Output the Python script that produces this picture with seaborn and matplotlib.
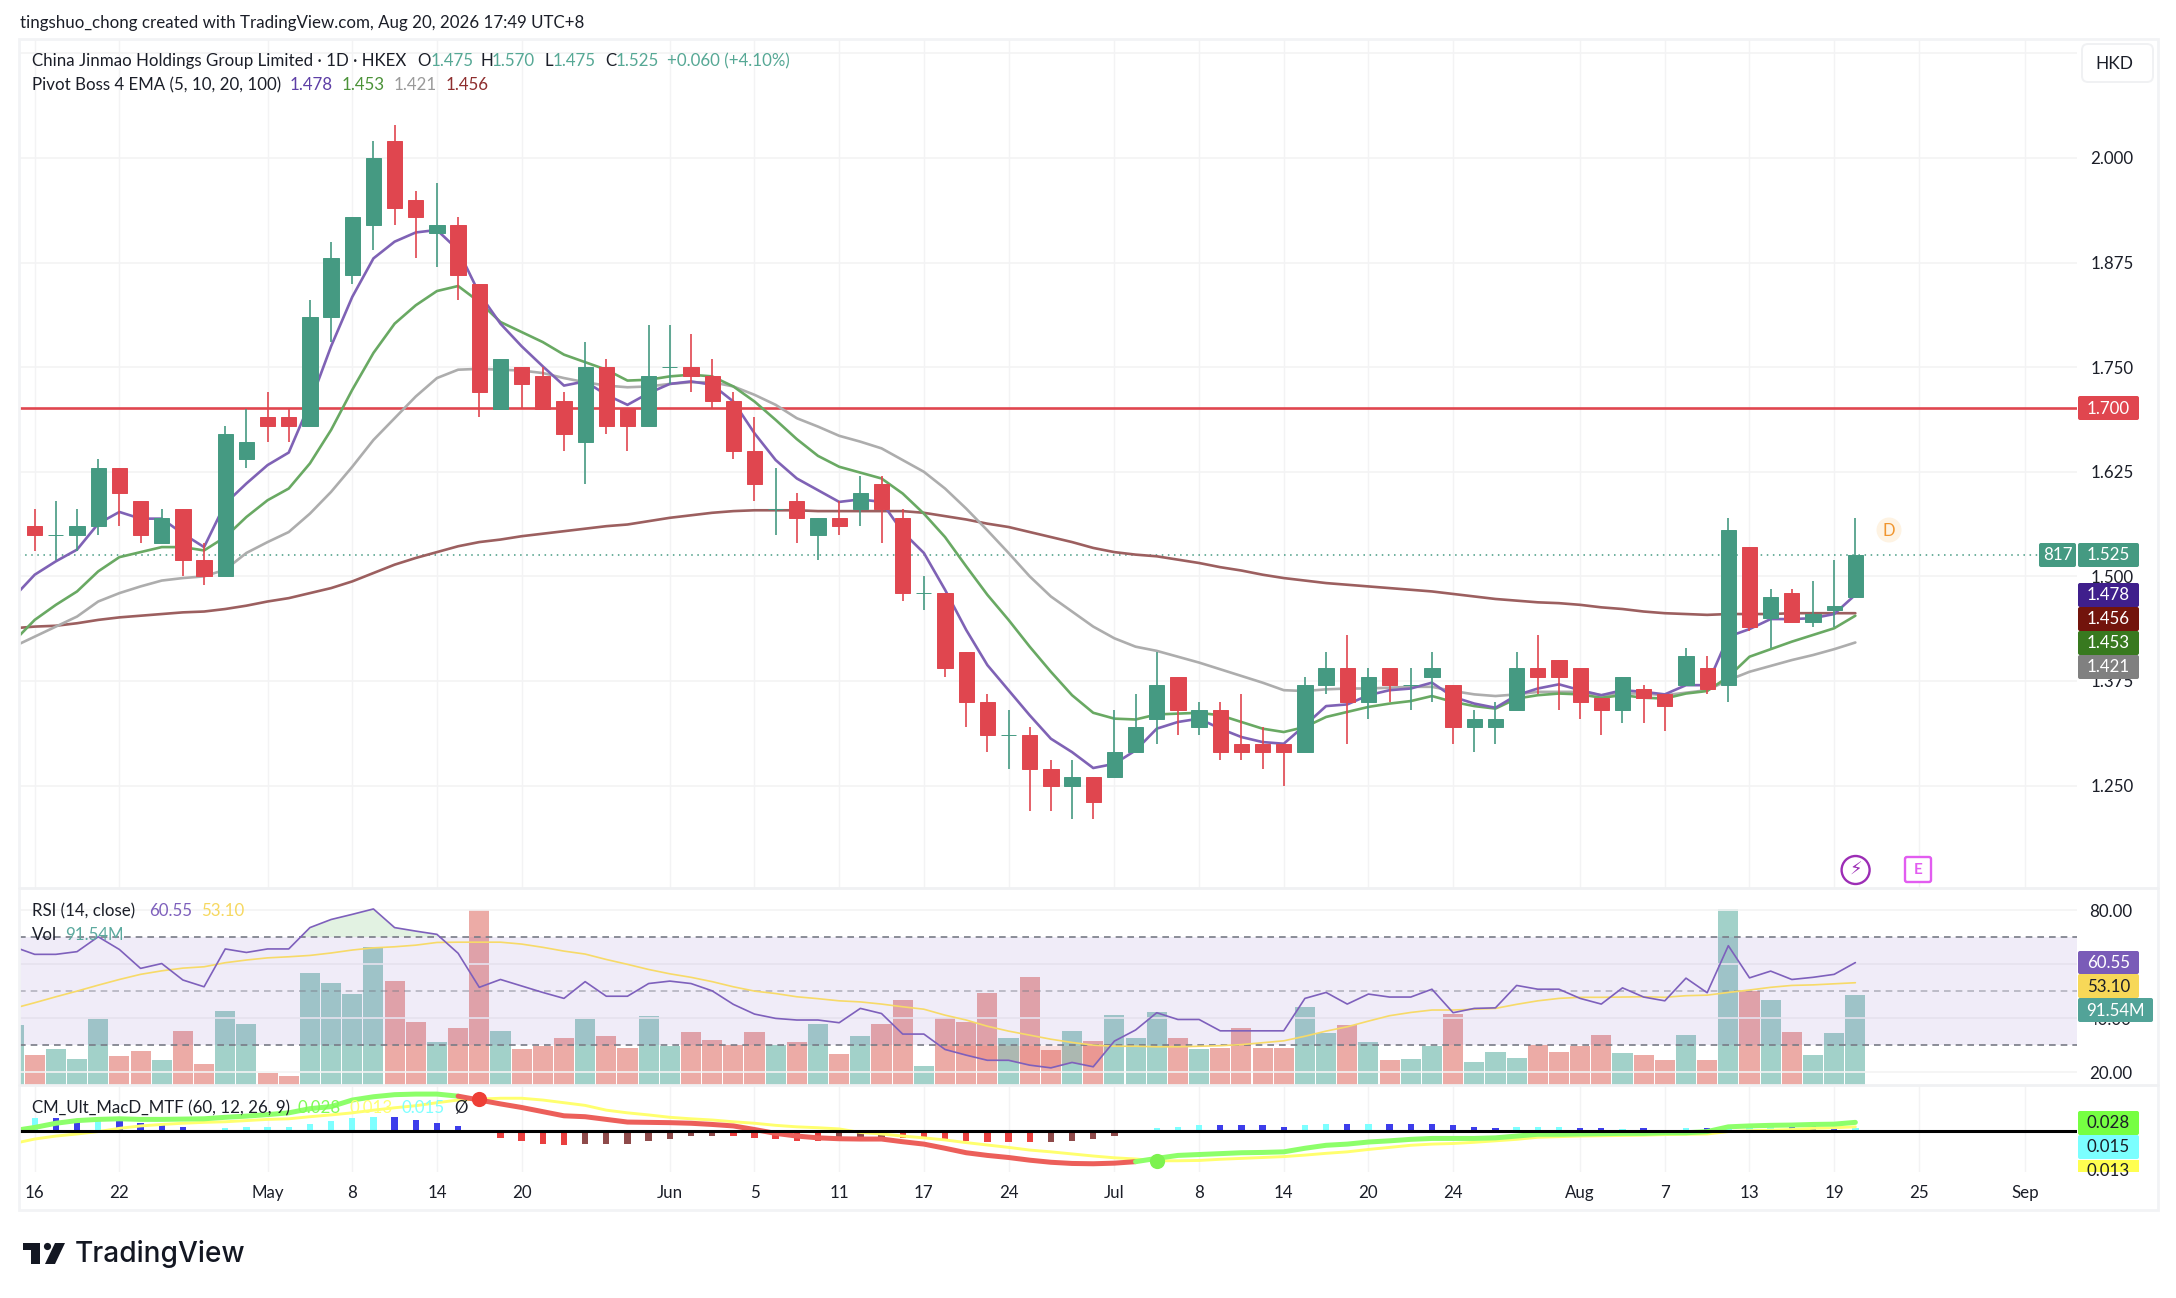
import numpy as np
import seaborn as sns
import matplotlib.pyplot as plt
from matplotlib.patches import Rectangle, FancyBboxPatch, Circle, Polygon

# daily candles, 16 Apr .. 20 Aug
opens = [1.56,1.55,1.55,1.56,1.63,1.59,1.54,1.58,1.52,1.50,1.64,1.69,1.69,1.68,1.81,1.86,1.92,2.02,1.95,1.91,1.92,1.85,1.70,1.75,1.74,1.71,1.66,1.75,1.70,1.68,1.75,1.75,1.74,1.71,1.65,1.58,1.59,1.55,1.57,1.58,1.61,1.57,1.48,1.48,1.41,1.35,1.31,1.31,1.27,1.25,1.26,1.26,1.29,1.33,1.38,1.32,1.34,1.30,1.30,1.30,1.29,1.37,1.39,1.35,1.39,1.37,1.38,1.37,1.32,1.32,1.34,1.39,1.40,1.39,1.355,1.34,1.365,1.36,1.37,1.39,1.37,1.535,1.45,1.48,1.445,1.46,1.475]
highs = [1.58,1.59,1.58,1.64,1.63,1.59,1.58,1.58,1.54,1.68,1.70,1.72,1.70,1.83,1.90,1.93,2.02,2.04,1.96,1.97,1.93,1.85,1.76,1.75,1.75,1.72,1.78,1.76,1.70,1.80,1.80,1.79,1.76,1.72,1.69,1.63,1.60,1.57,1.59,1.62,1.62,1.58,1.50,1.48,1.41,1.36,1.34,1.32,1.28,1.28,1.26,1.34,1.36,1.41,1.38,1.35,1.35,1.36,1.32,1.30,1.38,1.41,1.43,1.39,1.39,1.39,1.41,1.37,1.34,1.35,1.41,1.43,1.40,1.39,1.355,1.38,1.37,1.36,1.415,1.405,1.57,1.535,1.485,1.485,1.495,1.52,1.57]
lows = [1.53,1.52,1.53,1.55,1.56,1.54,1.54,1.50,1.49,1.50,1.63,1.66,1.66,1.68,1.78,1.85,1.89,1.92,1.88,1.87,1.83,1.69,1.70,1.70,1.70,1.65,1.61,1.67,1.65,1.68,1.73,1.72,1.70,1.64,1.59,1.55,1.54,1.52,1.55,1.56,1.54,1.47,1.46,1.38,1.32,1.29,1.27,1.22,1.22,1.21,1.21,1.26,1.29,1.30,1.31,1.31,1.28,1.28,1.27,1.25,1.29,1.36,1.30,1.33,1.35,1.34,1.35,1.30,1.29,1.30,1.34,1.36,1.34,1.33,1.31,1.325,1.325,1.315,1.37,1.36,1.35,1.435,1.415,1.445,1.44,1.44,1.475]
closes = [1.55,1.55,1.56,1.63,1.60,1.55,1.57,1.52,1.50,1.67,1.66,1.68,1.68,1.81,1.88,1.93,2.00,1.94,1.93,1.92,1.86,1.72,1.76,1.73,1.70,1.67,1.75,1.68,1.68,1.74,1.75,1.74,1.71,1.65,1.61,1.58,1.57,1.57,1.56,1.60,1.58,1.48,1.48,1.39,1.35,1.31,1.31,1.27,1.25,1.26,1.23,1.29,1.32,1.37,1.34,1.34,1.29,1.29,1.29,1.29,1.37,1.39,1.35,1.38,1.37,1.37,1.39,1.32,1.33,1.33,1.39,1.38,1.38,1.35,1.34,1.38,1.355,1.345,1.405,1.365,1.555,1.44,1.475,1.445,1.455,1.465,1.525]

# indicator series start one session before the first candle (clipped at the left edge)
ema5 = [1.475,1.502,1.518,1.532,1.563,1.577,1.569,1.569,1.551,1.535,1.587,1.611,1.633,1.648,1.707,1.775,1.834,1.880,1.900,1.911,1.914,1.890,1.838,1.802,1.775,1.751,1.728,1.733,1.717,1.705,1.719,1.730,1.733,1.729,1.709,1.671,1.639,1.617,1.603,1.589,1.592,1.589,1.553,1.528,1.484,1.436,1.394,1.364,1.334,1.306,1.290,1.271,1.276,1.292,1.318,1.326,1.330,1.318,1.308,1.302,1.300,1.322,1.345,1.347,1.358,1.364,1.366,1.373,1.356,1.348,1.343,1.358,1.366,1.371,1.364,1.358,1.364,1.362,1.359,1.370,1.370,1.428,1.437,1.449,1.449,1.450,1.455,1.478]
ema10 = [1.422,1.448,1.466,1.482,1.506,1.523,1.529,1.535,1.535,1.531,1.547,1.571,1.591,1.605,1.635,1.675,1.723,1.767,1.802,1.824,1.841,1.847,1.828,1.804,1.792,1.780,1.765,1.756,1.747,1.734,1.735,1.739,1.741,1.739,1.727,1.709,1.687,1.664,1.644,1.631,1.624,1.617,1.599,1.575,1.547,1.512,1.478,1.448,1.416,1.386,1.358,1.337,1.330,1.329,1.335,1.336,1.337,1.334,1.326,1.318,1.314,1.320,1.332,1.338,1.344,1.348,1.351,1.357,1.350,1.345,1.342,1.354,1.358,1.360,1.359,1.355,1.358,1.355,1.354,1.360,1.363,1.380,1.404,1.413,1.422,1.430,1.438,1.453]
ema20 = [1.416,1.428,1.440,1.452,1.470,1.480,1.488,1.495,1.498,1.500,1.508,1.528,1.541,1.553,1.575,1.601,1.631,1.663,1.689,1.715,1.737,1.747,1.748,1.747,1.746,1.743,1.737,1.732,1.728,1.726,1.727,1.730,1.732,1.732,1.727,1.717,1.705,1.689,1.679,1.668,1.661,1.653,1.639,1.625,1.605,1.581,1.555,1.528,1.500,1.476,1.458,1.440,1.426,1.416,1.411,1.404,1.397,1.389,1.381,1.373,1.364,1.363,1.365,1.366,1.366,1.367,1.368,1.368,1.363,1.359,1.357,1.359,1.362,1.362,1.362,1.358,1.360,1.360,1.358,1.361,1.364,1.376,1.386,1.393,1.400,1.406,1.413,1.421]
ema100 = [1.438,1.440,1.441,1.444,1.448,1.451,1.453,1.455,1.457,1.458,1.461,1.465,1.470,1.474,1.480,1.486,1.494,1.504,1.514,1.522,1.529,1.536,1.541,1.544,1.548,1.551,1.554,1.557,1.560,1.562,1.566,1.570,1.573,1.576,1.578,1.579,1.579,1.579,1.578,1.578,1.578,1.578,1.578,1.576,1.572,1.568,1.563,1.559,1.553,1.547,1.541,1.534,1.529,1.526,1.524,1.520,1.516,1.511,1.507,1.502,1.498,1.495,1.492,1.490,1.488,1.486,1.484,1.482,1.479,1.476,1.473,1.471,1.469,1.468,1.466,1.463,1.461,1.458,1.456,1.455,1.454,1.455,1.455,1.455,1.456,1.456,1.456,1.456]

rsi = [66.4,63.6,63.6,64.6,70.1,65.4,58.4,60.2,54.1,51.6,65.6,64.3,65.6,65.6,73.5,76.5,78.4,80.4,73.5,72.2,71.0,64.0,51.4,54.3,51.9,49.5,47.3,53.5,48.1,48.1,52.8,53.7,52.8,50.1,45.1,41.5,39.9,39.3,39.3,38.3,43.6,41.7,34.1,34.1,28.4,26.3,24.4,24.4,22.6,21.6,23.6,22.0,31.5,35.6,42.0,39.5,39.5,35.3,35.3,35.3,35.3,47.3,49.5,45.2,48.9,47.8,47.8,50.7,42.0,43.6,43.8,52.1,50.7,50.7,47.3,45.2,51.2,47.8,46.4,54.8,49.4,66.8,54.9,57.4,54.3,55.1,56.2,60.55]
rsi_ma = [43.6,45.7,47.9,50.0,52.2,54.3,56.2,57.5,58.5,59.0,60.5,61.5,62.3,62.7,63.2,64.1,65.2,66.0,66.4,67.0,68.0,68.1,68.1,68.1,67.4,66.2,64.8,63.7,61.7,59.9,58.0,56.4,55.1,53.5,51.6,50.0,49.1,47.9,47.2,46.4,46.0,45.2,44.2,43.3,41.1,39.3,37.0,35.2,33.7,32.2,31.0,30.0,29.6,29.6,29.4,29.4,29.6,29.8,30.2,30.9,31.6,33.3,35.2,36.8,38.9,40.9,42.1,43.0,43.0,43.3,43.6,45.1,46.4,47.3,47.7,47.7,47.8,47.9,47.7,48.3,48.5,49.5,50.4,51.4,52.1,52.3,52.7,53.1]
volume = [61.0,30.2,36.0,26.1,66.9,29.1,34.6,24.7,55.2,20.6,75.4,62.4,11.7,8.9,114.9,104.6,92.9,141.6,106.3,63.8,43.5,58.3,179.0,55.2,36.3,39.4,48.0,66.9,49.4,37.7,70.0,39.4,53.8,45.3,40.5,53.8,40.5,43.5,62.4,30.9,49.4,62.4,87.1,18.9,68.2,63.8,94.3,48.0,110.4,35.0,55.2,44.9,71.0,48.0,74.1,48.0,36.3,37.7,58.3,37.7,37.7,79.9,52.5,61.0,43.5,24.7,26.1,39.4,72.7,23.3,33.3,27.4,40.5,33.3,39.4,50.7,31.9,30.5,24.7,50.7,24.7,180.0,95.7,87.1,53.8,30.5,52.5,91.54]

# MACD in thousandths
macd_line = [0,11,25,34,38,40,38,38,39,40,45,49,54,60,74,81,103,114,121,123,123,116,103,90,78,64,50,47,38,29,28,27,25,21,16,4,-9,-18,-24,-27,-28,-28,-37,-45,-59,-74,-83,-90,-99,-106,-110,-111,-109,-104,-93,-83,-80,-77,-74,-73,-71,-59,-49,-45,-38,-34,-29,-26,-26,-26,-24,-18,-12,-12,-11,-10,-9,-9,-7,-7,-3,13,16,18,19,21,22,28]
macd_signal = [-43,-28,-18,-11,-3,8,16,21,25,28,30,34,38,40,47,53,60,69,77,84,94,103,106,109,109,103,94,85,69,60,53,45,40,36,30,25,18,13,10,6,-6,-11,-18,-24,-31,-40,-48,-56,-65,-71,-78,-85,-91,-95,-101,-101,-100,-96,-93,-90,-87,-82,-76,-71,-63,-56,-49,-45,-43,-39,-34,-29,-22,-20,-18,-17,-16,-15,-13,-12,-11,-3,0,2,4,8,10,13]
macd_hist = [41,41,36,36,36,27,22,13,0,8,12,12,12,22,31,41,46,46,36,27,17,-9,-24,-34,-43,-48,-43,-43,-43,-34,-29,-19,-19,-19,-24,-29,-34,-34,-34,-28,-24,-24,-24,-29,-34,-39,-39,-39,-39,-34,-29,-19,-9,8,12,18,18,18,18,12,18,22,22,22,22,22,22,18,12,8,12,12,12,8,8,7,8,0,8,8,12,12,17,17,17,12,10]
hist_rising = ("1001000001" "1111111000" "0000001111" "1110000011" "1000000011"
               "1111110000" "1101000000" "1110010010" "1110001")

# session numbers, first candle = 0
date_ticks = [0,4,11,15,19,23,30,34,38,42,46,51,55,59,63,67,73,77,81,85,89,94]
date_labels = ["16","22","May","8","14","20","Jun","5","11","17","24","Jul","8","14","20","24","Aug","7","13","19","25","Sep"]
price_ticks = [2.125,2.0,1.875,1.75,1.625,1.5,1.375,1.25]
price_labels = ["","2.000","1.875","1.750","1.625","1.500","1.375","1.250"]
rsi_ticks = [20,40,60,80]
rsi_labels = ["20.00","40.00","60.00","80.00"]
level_price = 1.7015
last_price = closes[-1]
# sessions where the MACD line changes colour
macd_cross_down = 21
macd_cross_up = 53

W, H = 2176, 1298
UP, DOWN = "#459A82", "#E0464F"
GRID = "#F3F3F4"
TEXT = "#1B1E28"
FS = 12.2

sns.set_theme(style="white")
plt.rcParams["font.family"] = ["Lato", "DejaVu Sans"]
plt.rcParams["axes.unicode_minus"] = False

fig = plt.figure(figsize=(W / 100, H / 100), dpi=100, facecolor="white")


def px_axes(x0, y0, x1, y1, **kw):
    return fig.add_axes([x0 / W, 1 - y1 / H, (x1 - x0) / W, (y1 - y0) / H], **kw)


# x pixels = 34.7 + 21.17 * session
XLIM = (-0.742, 96.47)
idx = np.arange(len(closes))
line_idx = np.arange(-1, len(closes))
o, h, l, c = map(np.array, (opens, highs, lows, closes))
up = c >= o
colors = np.where(up, UP, DOWN)

ax = px_axes(19, 39, 2077, 888)
ax_vol = px_axes(19, 888, 2077, 1084.5)
ax_rsi = ax_vol.twinx()
ax_macd = px_axes(19, 1085, 2077, 1172)

# ---- price pane
ax.axhline(level_price, color=DOWN, linewidth=1.9, zorder=1.5)
ax.axhline(last_price, color=UP, linewidth=1.1, linestyle=(0, (1, 3)), zorder=1)
for vals, col in ((ema100, "#9C5F5F"), (ema20, "#ADADAD"), (ema10, "#69A963"), (ema5, "#7F62B5")):
    sns.lineplot(x=line_idx, y=vals, color=col, linewidth=1.9, ax=ax, errorbar=None, zorder=2)
ax.vlines(idx, l, h, colors=colors, linewidth=1.2, zorder=3)
ax.bar(idx, np.abs(c - o), bottom=np.minimum(o, c), width=0.72, color=colors,
       edgecolor=colors, linewidth=0.7, zorder=3)
ax.set_ylim(1.1276, 2.1422)
ax.set_yticks(price_ticks, price_labels)

# ---- volume + RSI pane
vol_dir = ["up"] + ["up" if u else "down" for u in up]
sns.barplot(x=line_idx, y=volume, hue=vol_dir, palette={"up": "#A2D1C9", "down": "#ECABA6"},
            native_scale=True, width=0.95, dodge=False, errorbar=None, legend=False,
            saturation=1, linewidth=0, ax=ax_vol)
ax_vol.set_ylim(0, 202)
ax_vol.set_yticks([])

rsi_arr = np.array(rsi)
ax_rsi.axhspan(30, 70, color="#7E57C2", alpha=0.11, linewidth=0, zorder=1)
ax_rsi.fill_between(line_idx, 70, rsi_arr, where=rsi_arr > 70, interpolate=True,
                    color="#4CAF50", alpha=0.16, linewidth=0, zorder=1)
ax_rsi.fill_between(line_idx, 30, rsi_arr, where=rsi_arr < 30, interpolate=True,
                    color="#E53935", alpha=0.16, linewidth=0, zorder=1)
ax_rsi.axhline(70, color="#787B86", linewidth=1.2, linestyle=(0, (4, 3)), zorder=2)
ax_rsi.axhline(50, color="#787B86", linewidth=1.2, linestyle=(0, (4, 3)), alpha=0.5, zorder=2)
ax_rsi.axhline(30, color="#787B86", linewidth=1.2, linestyle=(0, (4, 3)), zorder=2)
sns.lineplot(x=line_idx, y=rsi_ma, color="#F7DA68", linewidth=1.2, ax=ax_rsi, errorbar=None, zorder=3)
sns.lineplot(x=line_idx, y=rsi, color="#7E60BC", linewidth=1.2, ax=ax_rsi, errorbar=None, zorder=4)
ax_rsi.set_ylim(15.44, 88.15)
ax_rsi.set_yticks(rsi_ticks, rsi_labels)

# ---- MACD pane
hist = np.array(macd_hist) / 1000
rise = np.array([ch == "1" for ch in hist_rising])
hist_col = np.where(hist >= 0, np.where(rise, "cyan", "blue"), np.where(rise, "maroon", "red"))
sns.barplot(x=idx, y=hist, hue=hist_col,
            palette={"cyan": "#7DFFFF", "blue": "#3D3DEB", "maroon": "#8E4A4A", "red": "#EA3F3F"},
            native_scale=True, width=0.3, dodge=False, errorbar=None, legend=False,
            saturation=1, linewidth=0, ax=ax_macd)
ml = np.array(macd_line) / 1000
ms = np.array(macd_signal) / 1000
sns.lineplot(x=line_idx, y=ms, color="#FFFF6E", linewidth=2.1, ax=ax_macd, errorbar=None, zorder=3)
a, b = macd_cross_down + 1, macd_cross_up + 1
for i0, i1, col in ((0, a, "#8DFF6A"), (a - 1, b, "#EC5F5A"), (b - 1, len(ml), "#8DFF6A")):
    sns.lineplot(x=line_idx[i0:i1], y=ml[i0:i1], color=col, linewidth=3.6, ax=ax_macd,
                 errorbar=None, zorder=4)
ax_macd.scatter([macd_cross_down], [ms[a]], s=120, color="#EE3F36", zorder=5, linewidth=0)
ax_macd.scatter([macd_cross_up], [ms[b]], s=120, color="#7CF24F", zorder=5, linewidth=0)
ax_macd.axhline(0, color="black", linewidth=2.2, zorder=6)
ax_macd.set_ylim(-0.1387, 0.1535)
ax_macd.set_yticks([])

# ---- axes furniture
for a_ in (ax, ax_vol, ax_rsi, ax_macd):
    a_.set_xlim(*XLIM)
    a_.set_xlabel("")
    a_.set_ylabel("")
    a_.set_facecolor("none")
    for s in a_.spines.values():
        s.set_visible(False)
for a_ in (ax, ax_vol):
    a_.set_xticks(date_ticks, [""] * len(date_ticks))
    a_.grid(True, axis="x", color=GRID, linewidth=1.0, zorder=0)
    a_.set_axisbelow(True)
ax_vol.set_facecolor("white")
ax_rsi.set_xticks([])
ax_macd.set_xticks(date_ticks, date_labels)
ax_macd.grid(True, axis="x", color=GRID, linewidth=1.0)
ax_macd.set_axisbelow(True)
ax_macd.tick_params(axis="x", length=0, labelsize=FS, labelcolor=TEXT, pad=9.5)
ax_vol.tick_params(axis="x", length=0)
ax.tick_params(axis="x", length=0)
for a_ in (ax, ax_rsi):
    a_.yaxis.tick_right()
    a_.tick_params(axis="y", length=0, labelsize=FS, labelcolor=TEXT, pad=9.5)
    a_.grid(True, axis="y", color=GRID, linewidth=1.2)
    a_.set_axisbelow(True)
ax_rsi.tick_params(axis="y", pad=8.5)

# ---- overlay in picture pixels: frame, legends, price tags, logo
ov = fig.add_axes([0, 0, 1, 1], zorder=20)
ov.set_xlim(0, W)
ov.set_ylim(H, 0)
ov.axis("off")
ov.patch.set_alpha(0)

ov.add_patch(Rectangle((19, 39), 2139, 1171, fill=False, edgecolor="#F2F3F5", linewidth=2))
ov.plot([19, 2158], [888, 888], color="#F0F1F3", linewidth=2)
ov.plot([19, 2158], [1085, 1085], color="#F0F1F3", linewidth=2)

ov.text(20, 23, "tingshuo_chong created with TradingView.com, Aug 20, 2026 17:49 UTC+8",
        fontsize=FS, color=TEXT, va="center")


def legend(y, parts):
    for x, txt, col in parts:
        ov.text(x, y, txt, fontsize=FS, color=col, va="center")


G = "#56A895"
legend(61, [(32, "China Jinmao Holdings Group Limited · 1D · HKEX", TEXT), (417, "O", TEXT), (431, "1.475", G),
            (481, "H", TEXT), (492, "1.570", G), (544, "L", TEXT), (553, "1.475", G), (605, "C", TEXT),
            (616, "1.525", G), (667, "+0.060 (+4.10%)", G)])
legend(85, [(32, "Pivot Boss 4 EMA (5, 10, 20, 100)", TEXT), (290, "1.478", "#5E3FA6"), (342, "1.453", "#4B9238"),
            (394, "1.421", "#9A9A9A"), (446, "1.456", "#8E2E2E")])
legend(911, [(32, "RSI (14, close)", TEXT), (149, "60.55", "#7E60BC"), (201, "53.10", "#F6D860")])
legend(935, [(32, "Vol", TEXT), (65, "91.54M", "#5CAA9F")])
legend(1108, [(32, "CM_Ult_MacD_MTF (60, 12, 26, 9)", TEXT), (297, "0.028", "#7FFC55"), (349, "0.013", "#FFFF70"),
              (401, "0.015", "#80FFFF"), (454, "Ø", TEXT)])


def tag(x0, x1, y0, y1, txt, bg, fg="white"):
    ov.add_patch(FancyBboxPatch((x0 + 1, y0 + 1), x1 - x0 - 2, y1 - y0 - 2, boxstyle="round,pad=1,rounding_size=2",
                                facecolor=bg, edgecolor="none", zorder=5))
    ov.text((x0 + x1) / 2, (y0 + y1) / 2 + 0.5, txt, color=fg, fontsize=FS, ha="center", va="center", zorder=6)


tag(2078, 2139, 396, 420, "1.700", DOWN)
tag(2039, 2076, 543, 567, "817", UP)
tag(2078, 2139, 543, 567, "1.525", UP)
tag(2078, 2139, 583, 607, "1.478", "#3F1F8C")
tag(2078, 2139, 607, 631, "1.456", "#72140C")
tag(2078, 2139, 631, 655, "1.453", "#38791F")
tag(2078, 2139, 655, 679, "1.421", "#808080")
tag(2078, 2139, 951, 974, "60.55", "#7A5BB8")
tag(2078, 2139, 974, 998, "53.10", "#F7D858", fg=TEXT)
tag(2078, 2153, 998, 1022, "91.54M", "#52A398")
tag(2078, 2139, 1111, 1135, "0.028", "#76FF42", fg=TEXT)
tag(2078, 2139, 1135, 1159, "0.015", "#7BFFFF", fg=TEXT)
ov.add_patch(Rectangle((2078, 1160), 61, 12, facecolor="#FFFF50", edgecolor="none", zorder=5))
t13 = ov.text(2108.5, 1171, "0.013", color=TEXT, fontsize=FS, ha="center", va="center", zorder=6)
t13.set_clip_path(Rectangle((2078, 1160), 61, 12, transform=ov.transData))

# currency button
ov.add_patch(FancyBboxPatch((2084, 46), 67, 34, boxstyle="round,pad=2,rounding_size=6", facecolor="white",
                            edgecolor="#F0F1F3", linewidth=1.4, zorder=5))
ov.text(2095, 64, "HKD", fontsize=12.5, color=TEXT, ha="left", va="center", zorder=6)

# dividend / earnings markers
ov.add_patch(Circle((1889, 530), 12.5, facecolor="#FEF3E3", edgecolor="none"))
ov.text(1889, 530.5, "D", fontsize=12, color="#F0952E", ha="center", va="center")
ov.add_patch(Circle((1855.6, 870), 14, facecolor="white", edgecolor="#9C2DB5", linewidth=1.7))
ov.text(1855.6, 870, "\u26a1", fontsize=13, color="#9C2DB5", ha="center", va="center", family="DejaVu Sans")
ov.add_patch(FancyBboxPatch((1906, 858), 24, 23, boxstyle="round,pad=1,rounding_size=2", facecolor="white",
                            edgecolor="#E25CF0", linewidth=1.7))
ov.text(1918, 869.5, "E", fontsize=11, color="#E25CF0", ha="center", va="center", fontweight="bold")

# TradingView logo
LOGO = "#131722"
ov.add_patch(Polygon([(23, 1243), (40, 1243), (40, 1264), (31, 1264), (31, 1250), (23, 1250)], facecolor=LOGO, edgecolor="none"))
ov.add_patch(Circle((47.5, 1246.5), 3.6, facecolor=LOGO, edgecolor="none"))
ov.add_patch(Polygon([(55, 1243), (65, 1243), (55, 1264), (45, 1264)], facecolor=LOGO, edgecolor="none"))
ov.text(75, 1254, "TradingView", fontsize=20.2, color=LOGO, va="center", fontweight="medium", family="Inter")

fig.savefig("out.png", dpi=100)
